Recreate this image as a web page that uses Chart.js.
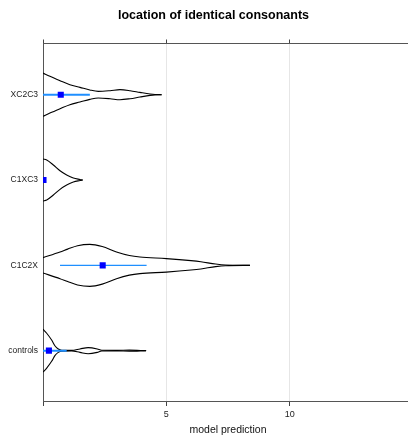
<!DOCTYPE html>
<html lang="en">
<head>
    <meta charset="UTF-8">
    <title>location of identical consonants</title>
    <script src="https://cdn.jsdelivr.net/npm/chart.js"></script>
    <style>
        html, body { margin: 0; padding: 0; background: #fff; overflow: hidden; }
        #violinChart { display: block; width: 427px; height: 435px; }
    </style>
</head>
<body>
    <canvas id="violinChart" width="427" height="435"></canvas>

    <script>
        // categories, bottom to top (y = 1..4)
        const categories = ['controls', 'C1C2X', 'C1XC3', 'XC2C3'];

        // mean and interval per category
        const meanValues  = [0.24, 2.42, 0.02, 0.72];
        const lowerValues = [-0.48, 0.69, 0.02, -0.46];
        const upperValues = [0.96, 4.2, 0.02, 1.9];

        // violin outlines: prediction values and half widths (in category units)
        const controlsGrid = [0, 0.15, 0.35, 0.49, 0.62, 0.76, 1.16, 1.5, 1.83, 2.2, 2.38, 3.0, 3.5, 4.18];
        const controlsHalf = [0.251, 0.204, 0.125, 0.055, 0.02, 0.005, 0.003, 0.02, 0.036, 0.02, 0.004, 0.003, 0.006, 0];

        const c1c2xGrid = [0, 0.69, 1.0, 1.4, 1.9, 2.4, 2.98, 3.5, 3.93, 5.0, 6.0, 6.4, 7.0, 7.4, 8.39];
        const c1c2xHalf = [0.09, 0.156, 0.19, 0.23, 0.246, 0.22, 0.156, 0.115, 0.097, 0.079, 0.055, 0.042, 0.015, 0.004, 0];

        const c1xc3Grid = [0, 0.15, 0.42, 0.69, 0.96, 1.23, 1.5, 1.61];
        const c1xc3Half = [0.246, 0.234, 0.176, 0.109, 0.059, 0.023, 0.006, 0];

        const xc2c3Grid = [0, 0.28, 0.69, 1.09, 1.5, 1.9, 2.24, 2.72, 3.12, 3.53, 3.93, 4.34, 4.54, 4.81];
        const xc2c3Half = [0.254, 0.215, 0.164, 0.117, 0.086, 0.055, 0.039, 0.047, 0.059, 0.047, 0.027, 0.008, 0.002, 0];

        const xTicks = [0, 5, 10, 15];

        const violinGrids = [controlsGrid, c1c2xGrid, c1xc3Grid, xc2c3Grid];
        const violinHalfs = [controlsHalf, c1c2xHalf, c1xc3Half, xc2c3Half];

        Chart.defaults.font.family = '"Liberation Sans", Arial, Helvetica, sans-serif';

        const datasets = [];

        categories.forEach((cat, i) => {
            const pos = i + 1;
            const grid = violinGrids[i];
            const half = violinHalfs[i];

            // mean marker (on top)
            datasets.push({
                label: cat + ' mean',
                data: [{ x: meanValues[i], y: pos }],
                pointStyle: 'rect',
                pointRadius: 4.3,
                pointBackgroundColor: '#0000ff',
                pointBorderWidth: 0,
                showLine: false,
                clip: 0,
                order: 1
            });

            // interval line
            datasets.push({
                label: cat + ' interval',
                data: [{ x: lowerValues[i], y: pos }, { x: upperValues[i], y: pos }],
                borderColor: '#1f8fff',
                borderWidth: i === 1 ? 1.2 : 2,
                pointRadius: 0,
                showLine: true,
                clip: 0,
                order: 2
            });

            // violin upper and lower outlines
            [1, -1].forEach(sign => {
                datasets.push({
                    label: cat + ' violin',
                    data: grid.map((x, j) => ({ x: x, y: pos + sign * half[j] })),
                    borderColor: '#000',
                    borderWidth: 1.1,
                    pointRadius: 0,
                    showLine: true,
                    fill: false,
                    cubicInterpolationMode: 'monotone',
                    clip: 0,
                    order: 3
                });
            });
        });

        new Chart(document.getElementById('violinChart'), {
            type: 'scatter',
            data: { datasets: datasets },
            options: {
                responsive: false,
                animation: false,
                events: [],
                layout: { padding: 0 },
                plugins: {
                    legend: { display: false },
                    tooltip: { enabled: false },
                    title: {
                        display: true,
                        text: 'location of identical consonants',
                        color: '#000',
                        font: { size: 12.5, weight: 'bold' },
                        padding: { top: 8, bottom: 6 }
                    }
                },
                scales: {
                    x: {
                        type: 'linear',
                        position: 'bottom',
                        min: xTicks[0],
                        max: xTicks[xTicks.length - 1],
                        afterFit: s => { s.height = 34; },
                        ticks: {
                            stepSize: 5,
                            includeBounds: false,
                            autoSkip: false,
                            maxRotation: 0,
                            padding: 3,
                            color: '#222',
                            font: { size: 9 },
                            callback: v => (v === 0 ? '' : v)
                        },
                        grid: {
                            color: c => (c.tick && c.tick.value === 0 ? 'rgba(0,0,0,0)' : '#e6e6e6'),
                            tickColor: '#444',
                            tickLength: 5,
                            drawTicks: true
                        },
                        border: { color: '#555', width: 1 },
                        title: {
                            display: true,
                            text: 'model prediction',
                            color: '#111',
                            font: { size: 10.5 },
                            padding: { top: 0, bottom: -1.5 }
                        }
                    },
                    x2: {
                        axis: 'x',
                        type: 'linear',
                        position: 'top',
                        min: xTicks[0],
                        max: xTicks[xTicks.length - 1],
                        afterFit: s => { s.height = 14.5; },
                        ticks: { stepSize: 5, includeBounds: false, display: false },
                        grid: { drawOnChartArea: false, drawTicks: true, tickLength: 4, tickColor: '#444', color: '#444' },
                        border: { color: '#555', width: 1 }
                    },
                    y: {
                        type: 'linear',
                        position: 'left',
                        min: 0.41,
                        max: 4.6,
                        afterFit: s => { s.width = 43; },
                        ticks: {
                            stepSize: 1,
                            includeBounds: false,
                            autoSkip: false,
                            padding: 5,
                            color: '#222',
                            font: { size: 8.5 },
                            callback: v => categories[Math.round(v) - 1] || ''
                        },
                        grid: { display: false, drawTicks: false },
                        border: { color: '#555', width: 1 }
                    },
                    y2: {
                        axis: 'y',
                        type: 'linear',
                        position: 'right',
                        min: 0,
                        max: 1,
                        afterFit: s => { s.width = 14; },
                        ticks: { display: false },
                        grid: { display: false, drawTicks: false },
                        border: { display: false }
                    }
                }
            }
        });
    </script>
</body>
</html>
